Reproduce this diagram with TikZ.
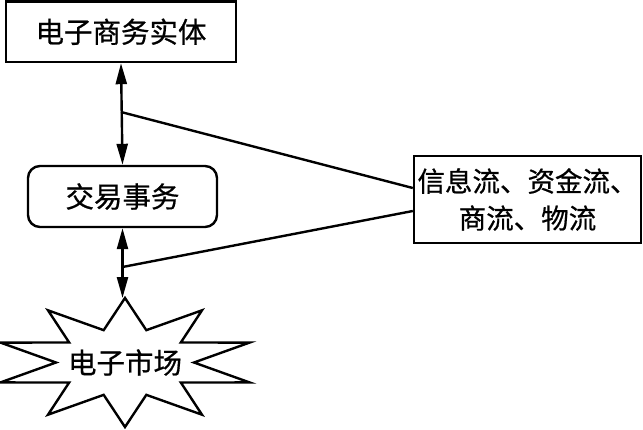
\documentclass[tikz,border=0pt]{standalone}
\usepackage{fontspec}
\newfontfamily\cjk[FakeBold=0.6]{Noto Sans CJK SC}
\usetikzlibrary{arrows.meta,calc}
\begin{document}
\begin{tikzpicture}[x=1pt,y=-1pt,line width=2.4pt,
    every node/.style={font=\cjk\fontsize{28.5}{37}\selectfont,inner sep=0pt},
    box/.style={draw,rectangle},
    roundbox/.style={draw,rectangle,rounded corners=12pt}]
\tikzset{>={Triangle[length=21pt,width=11pt]}}
\useasboundingbox (0,0) rectangle (643,429);
\node[box,minimum width=230,minimum height=60.5] (entity) at (121,31.75) {电子商务实体};
\node[roundbox,minimum width=189,minimum height=61] (trade) at (122.5,196.5) {交易事务};
\node[box,minimum width=227,minimum height=87,align=center,
      font=\cjk\fontsize{27.5}{37}\selectfont] (flows) at (527.5,199.5)
     {信息流、资金流、\\商流、物流};
% star
\draw[line join=miter] (125,362.5) +(90:131 and 64.5)
      \foreach \i in {0,...,9} {-- +(108+36*\i:69 and 34) -- +(126+36*\i:131 and 64.5)} -- cycle;
\node (market) at (125,362.5) {电子市场};
\coordinate (markettop) at (125,298);
\coordinate (upjoin) at (entity.south |- 0,112);
\coordinate (lowjoin) at (trade.south |- 0,267);
\draw[<->] (entity.south) -- (trade.north);
\draw[<->] (trade.south) -- (trade.south |- markettop);
\draw (upjoin) -- ($(flows.west)+(0,-11.5)$);
\draw (lowjoin) -- ($(flows.west)+(0,11.5)$);
\end{tikzpicture}
\end{document}
